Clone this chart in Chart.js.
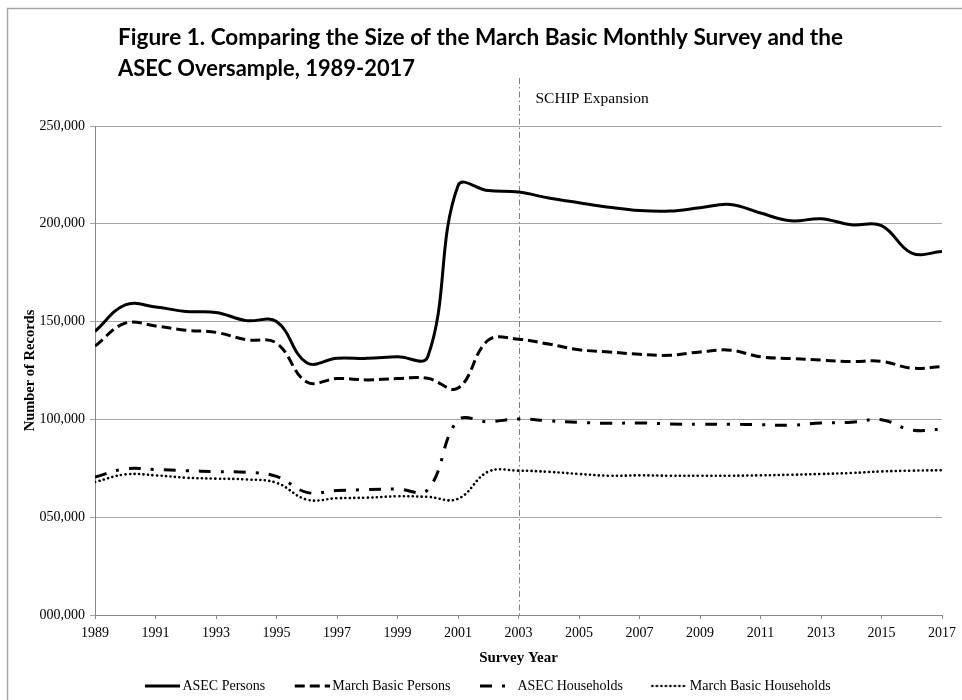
<!DOCTYPE html>
<html><head><meta charset="utf-8">
<script src="https://cdn.jsdelivr.net/npm/chart.js@4.4.1/dist/chart.umd.min.js"></script>
<style>html,body{margin:0;padding:0;background:#fff;}#wrap{position:relative;width:962px;height:700px;}</style>
</head><body><div id="wrap"><canvas id="c" width="962" height="700"></canvas></div>
<script>
const years = [1989,1990,1991,1992,1993,1994,1995,1996,1997,1998,1999,2000,2001,2002,2003,2004,2005,2006,2007,2008,2009,2010,2011,2012,2013,2014,2015,2016,2017];
const asecPersons = [145000,158500,157500,155200,154700,150500,150000,129000,131300,131200,132000,132000,219500,217000,216200,213200,210800,208500,206800,206500,208200,209900,205500,201500,202600,199500,199100,185000,185800];
const marchBasicPersons = [137500,149200,147800,145600,144500,140700,139000,119100,120900,120200,120900,121000,116000,140500,141000,138500,135600,134500,133300,132800,134500,135400,132000,131100,130300,129600,129700,126200,127000];
const asecHouseholds = [70500,74700,74400,73800,73300,73000,70900,62700,63600,64100,64400,64100,99500,98800,100200,99300,98500,98000,98200,97700,97500,97500,97300,97000,98200,98500,99800,94600,95000];
const marchBasicHouseholds = [68000,71900,71400,70200,69700,69300,67600,59000,59700,60000,60700,60400,59400,73300,73800,73200,72100,71200,71400,71200,71200,71200,71400,71700,72100,72600,73400,73800,74000];
const seriesNames = ['ASEC Persons','March Basic Persons','ASEC Households','March Basic Households'];
const yTickLabels = ['000,000','050,000','100,000','150,000','200,000','250,000'];
const xTickStep = 2;
const titleLines = ['Figure 1. Comparing the Size of the March Basic Monthly Survey and the','ASEC Oversample, 1989-2017'];
const annotationYear = 2003;
const annotationLabel = 'SCHIP Expansion';
const xAxisTitle = 'Survey Year';
const yAxisTitle = 'Number of Records';

const SERIF = '"Liberation Serif","Times New Roman",serif';
const toPts = arr => arr.map((v, i) => ({x: years[i], y: v}));

const styles = [
  {borderWidth: 3, borderDash: []},
  {borderWidth: 3, borderDash: [10, 5]},
  {borderWidth: 3, borderDash: [12, 10, 3, 10]},
  {borderWidth: 2.6, borderDash: [0.1, 4.4], borderCapStyle: 'round'}
];

function makeSample(st) {
  const c = document.createElement('canvas');
  c.width = 44; c.height = 8;
  const g = c.getContext('2d');
  g.strokeStyle = '#000';
  g.lineWidth = st.borderWidth;
  g.lineCap = st.borderCapStyle || 'butt';
  g.setLineDash(st.borderDash);
  g.beginPath();
  g.moveTo(9, 4); g.lineTo(44, 4);
  g.stroke();
  return c;
}
const samples = styles.map(makeSample);

const decorPlugin = {
  id: 'decor',
  afterLayout(chart) {
    const lg = chart.legend;
    if (lg) { lg.left += 14; lg.right += 14; lg.top += 3; lg.bottom += 3; }
  },
  beforeDatasetsDraw(chart) {
    const ctx = chart.ctx, xs = chart.scales.x, ca = chart.chartArea;
    const x = Math.round(xs.getPixelForValue(annotationYear)) + 0.5;
    ctx.save();
    ctx.strokeStyle = '#7f7f7f';
    ctx.lineWidth = 1;
    ctx.setLineDash([6, 3, 1.5, 3]);
    ctx.beginPath();
    ctx.moveTo(x, 78);
    ctx.lineTo(x, ca.bottom);
    ctx.stroke();
    ctx.restore();
  },
  afterDraw(chart) {
    const ctx = chart.ctx, xs = chart.scales.x;
    ctx.save();
    ctx.strokeStyle = '#a6a6a6';
    ctx.lineWidth = 1.5;
    ctx.beginPath();
    ctx.moveTo(7.5, 710);
    ctx.lineTo(7.5, 8.5);
    ctx.lineTo(980, 8.5);
    ctx.stroke();
    ctx.fillStyle = '#000';
    ctx.font = '15.5px ' + SERIF;
    ctx.textBaseline = 'alphabetic';
    ctx.textAlign = 'left';
    ctx.fillText(annotationLabel, xs.getPixelForValue(annotationYear) + 17, 103);
    ctx.font = 'bold 22.5px Lato, "Open Sans", sans-serif';
    const baselines = [45, 76];
    const targetW = [725, 297];
    titleLines.forEach((t, i) => {
      const w0 = ctx.measureText(t).width;
      ctx.save();
      ctx.translate(118, baselines[i]);
      ctx.scale(targetW[i] / w0, 1);
      ctx.fillText(t, 0, 0);
      ctx.restore();
    });
    ctx.restore();
  }
};

const common = {pointRadius: 0, pointHoverRadius: 0, borderColor: '#000', backgroundColor: '#000', fill: false, tension: 0.4};

new Chart(document.getElementById('c'), {
  type: 'line',
  data: {
    datasets: seriesNames.map((name, i) => Object.assign(
      {label: name, data: toPts([asecPersons, marchBasicPersons, asecHouseholds, marchBasicHouseholds][i])},
      common, styles[i]))
  },
  options: {
    responsive: false,
    animation: false,
    layout: {padding: {top: 126, right: 19, bottom: 0, left: 0}},
    plugins: {
      title: {display: false},
      tooltip: {enabled: false},
      legend: {
        position: 'bottom',
        labels: {
          usePointStyle: true, pointStyleWidth: 35,
          padding: 25, color: '#000',
          font: {family: SERIF, size: 14},
          generateLabels(chart) {
            const items = Chart.defaults.plugins.legend.labels.generateLabels(chart);
            items.forEach((it, i) => { it.pointStyle = samples[i]; });
            return items;
          }
        }
      }
    },
    scales: {
      x: {
        type: 'linear', min: years[0], max: years[years.length - 1],
        afterFit(s) { s.height = 36; },
        grid: {drawOnChartArea: false, color: '#888', tickLength: 4},
        border: {color: '#888', width: 1},
        ticks: {stepSize: xTickStep, color: '#000', padding: 6, maxRotation: 0, autoSkip: false,
          font: {family: SERIF, size: 14}, callback: v => String(v)},
        title: {display: true, text: xAxisTitle, color: '#000', font: {family: SERIF, size: 15, weight: 'bold'}, padding: {top: 0, bottom: -16}}
      },
      y: {
        min: 0, max: 250000,
        afterFit(s) { s.width = 95; },
        grid: {color: '#a6a6a6', tickLength: 5},
        border: {color: '#888', width: 1},
        ticks: {stepSize: 50000, color: '#000', padding: 5, font: {family: SERIF, size: 14},
          callback: (v) => yTickLabels[Math.round(v / 50000)]},
        title: {display: true, text: yAxisTitle, color: '#000', font: {family: SERIF, size: 14.5, weight: 'bold'}, padding: {top: 21.3, bottom: 0}}
      }
    }
  },
  plugins: [decorPlugin]
});
</script>
</body></html>
